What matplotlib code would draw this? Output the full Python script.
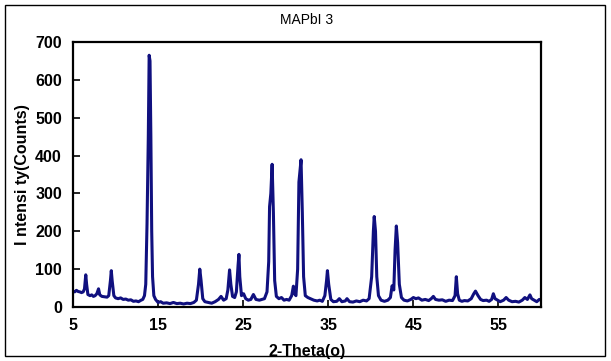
import matplotlib
matplotlib.use("Agg")
import matplotlib.pyplot as plt
from matplotlib.patches import Rectangle

# XRD pattern (2-theta in degrees, counts)
two_theta = [5.0, 5.2, 5.4, 5.6, 5.8, 6.0, 6.2, 6.35, 6.5, 6.6, 6.75, 7.0, 7.2, 7.4, 7.6, 7.8,
             8.0, 8.15, 8.4, 8.7, 9.0, 9.2, 9.4, 9.5, 9.6, 9.8, 10.0, 10.3, 10.6, 10.9, 11.2,
             11.5, 11.8, 12.1, 12.4, 12.7, 13.0, 13.2, 13.4, 13.55, 13.7, 13.85, 13.95, 14.05,
             14.15, 14.25, 14.35, 14.5, 14.7, 15.0, 15.3, 15.6, 16.0, 16.4, 16.8, 17.2, 17.6,
             18.0, 18.4, 18.8, 19.2, 19.5, 19.75, 19.9, 20.05, 20.25, 20.5, 20.9, 21.3, 21.7,
             22.1, 22.4, 22.7, 23.0, 23.2, 23.4, 23.55, 23.75, 24.0, 24.2, 24.4, 24.5, 24.6,
             24.8, 25.05, 25.3, 25.6, 25.9, 26.2, 26.5, 26.9, 27.2, 27.5, 27.8, 28.0, 28.1,
             28.25, 28.4, 28.55, 28.7, 28.9, 29.2, 29.5, 29.8, 30.1, 30.4, 30.7, 30.9, 31.05,
             31.2, 31.4, 31.55, 31.8, 31.95, 32.1, 32.3, 32.6, 32.9, 33.3, 33.7, 34.0, 34.3,
             34.6, 34.8, 34.9, 35.05, 35.3, 35.6, 36.0, 36.3, 36.6, 37.0, 37.2, 37.5, 37.9,
             38.3, 38.7, 39.1, 39.5, 39.8, 40.1, 40.3, 40.4, 40.55, 40.7, 40.9, 41.2, 41.6,
             42.0, 42.3, 42.5, 42.7, 42.85, 43.0, 43.15, 43.35, 43.6, 43.9, 44.3, 44.7, 45.0,
             45.3, 45.6, 46.0, 46.4, 46.8, 47.1, 47.35, 47.6, 48.0, 48.4, 48.8, 49.2, 49.6,
             49.9, 50.05, 50.2, 50.4, 50.7, 51.0, 51.4, 51.8, 52.1, 52.3, 52.6, 52.9, 53.2,
             53.6, 53.9, 54.2, 54.4, 54.6, 54.9, 55.2, 55.6, 55.9, 56.2, 56.6, 57.0, 57.4,
             57.8, 58.1, 58.4, 58.7, 58.9, 59.2, 59.5, 59.8, 60.0]
counts = [42, 40, 44, 41, 40, 38, 40, 48, 85, 60, 33, 30, 32, 28, 30, 35,
          48, 32, 28, 27, 26, 30, 70, 96, 70, 30, 24, 22, 24, 20, 21,
          18, 19, 15, 16, 14, 18, 20, 30, 60, 220, 450, 665, 650,
          450, 200, 80, 30, 20, 12, 14, 10, 11, 9, 12, 9, 10,
          8, 10, 9, 12, 18, 60, 100, 70, 22, 14, 12, 10, 14,
          20, 28, 18, 22, 45, 98, 60, 28, 25, 40, 110, 139, 80,
          30, 35, 22, 18, 20, 33, 20, 18, 20, 22, 40, 120, 265,
          300, 377, 250, 70, 28, 22, 25, 18, 20, 18, 30, 55, 35,
          30, 100, 330, 389, 250, 80, 30, 25, 22, 18, 16, 18, 15,
          30, 70, 96, 60, 20, 14, 15, 22, 14, 16, 22, 14, 13,
          16, 14, 18, 16, 22, 80, 200, 239, 200, 80, 30, 18, 15,
          18, 25, 56, 45, 150, 214, 170, 60, 25, 18, 16, 20, 25,
          22, 24, 18, 20, 17, 22, 28, 20, 18, 19, 15, 18, 17,
          30, 80, 35, 18, 15, 17, 16, 22, 35, 42, 30, 20, 17,
          18, 15, 20, 35, 22, 18, 14, 18, 25, 18, 14, 15, 13,
          18, 25, 20, 32, 22, 18, 14, 20, 18]

x_ticks = [5, 15, 25, 35, 45, 55]
y_ticks = [0, 100, 200, 300, 400, 500, 600, 700]

plt.rcParams['font.family'] = ['Liberation Sans', 'DejaVu Sans']

fig = plt.figure(figsize=(6.11, 3.61), dpi=100)
ax = fig.add_axes([73 / 611, 1 - 307 / 361, 468 / 611, 265 / 361])

ax.plot(two_theta, counts, color='#10107f', linewidth=2.2)

ax.set_xlim(5, 60)
ax.set_ylim(0, 700)
ax.set_xticks(x_ticks)
ax.set_yticks(y_ticks)
ax.tick_params(direction='in', length=5, width=1.2, labelsize=11.5, pad=8)
for lab in ax.get_xticklabels() + ax.get_yticklabels():
    lab.set_fontweight('bold')
for sp in ax.spines.values():
    sp.set_linewidth(1.6)

ax.set_xlabel('2-Theta(o)', fontsize=11.5, fontweight='bold', labelpad=8)
ax.set_ylabel('I ntensi ty(Counts)', fontsize=11.5, fontweight='bold', labelpad=4)
fig.text(0.5 * (73 + 541) / 611, 1 - 20 / 361, 'MAPbI 3', ha='center', va='center', fontsize=10)

# thin frame round the whole picture
fig.patches.append(Rectangle((5 / 611, 5 / 361), 600 / 611, 351 / 361, transform=fig.transFigure,
                             fill=False, edgecolor='black', linewidth=1.0))

fig.savefig('out.png', dpi=100)
